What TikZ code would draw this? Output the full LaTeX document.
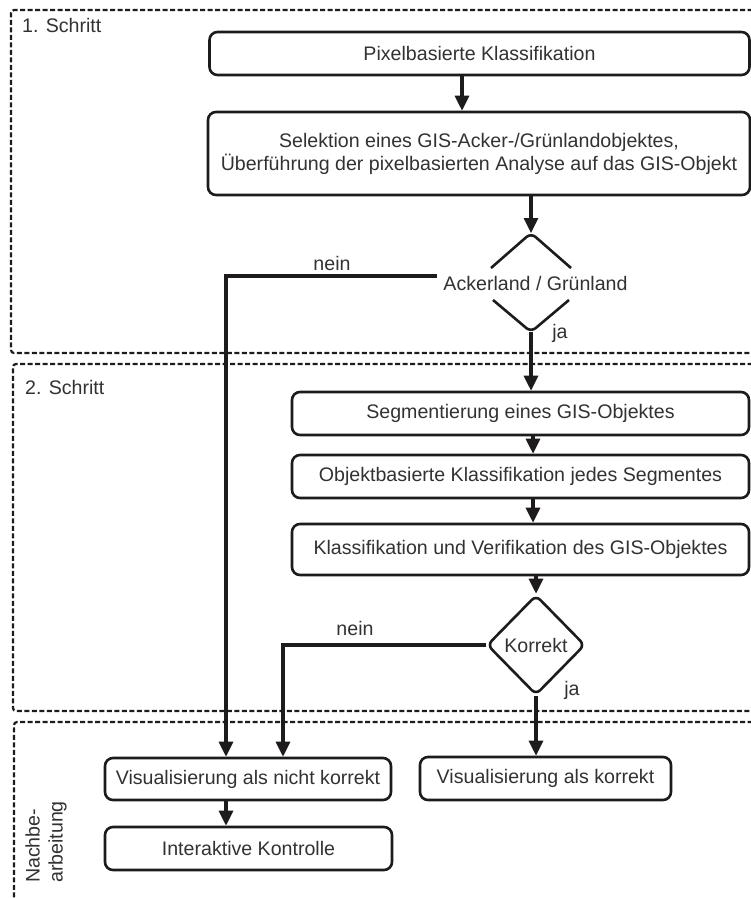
\documentclass[tikz,border=0pt]{standalone}
\usepackage{fontspec}
\setmainfont{Liberation Sans}
\usetikzlibrary{arrows.meta,shapes.geometric}
\definecolor{ln}{RGB}{30,27,28}
\definecolor{tx}{RGB}{50,50,50}
\begin{document}
\begin{tikzpicture}[x=1pt,y=-1pt,
  font=\fontsize{19.6}{23}\selectfont,
  every node/.style={text=tx},
  box/.style={draw=ln, line width=2.6pt, rounded corners=8pt, inner sep=0pt, align=center},
  conn/.style={draw=ln, line width=3.1pt, -{Triangle[length=15pt,width=14pt]}},
  vline/.style={draw=ln, line width=2.6pt, rounded corners=6pt},
  frame/.style={draw=ln, line width=2.2pt, dash pattern=on 5pt off 2.5pt, rounded corners=3pt},
  lbl/.style={inner sep=0pt}
]
\path[use as bounding box] (0,0) rectangle (751,899);
\clip (0,0) rectangle (751,899);
\fill[white] (0,0) rectangle (751,899);

% frames
\draw[frame] (760,10) -- (11,10) -- (11,353) -- (760,353);
\draw[frame] (760,364) -- (13,364) -- (13,711) -- (760,711);
\draw[frame] (760,722) -- (14,722) -- (14,910);

% labels of steps
\node[lbl, anchor=west] (st1) at (22,25) {1. Schritt};
\node[lbl, anchor=west] (st2) at (25,387) {2. Schritt};
\node[lbl, rotate=90, align=left] (nb) at (46,842) {Nachbe-\\arbeitung};

% boxes
\node[box, minimum width=540pt, minimum height=43pt] (b1) at (479.5,53.5) {Pixelbasierte Klassifikation};
\node[box, minimum width=542pt, minimum height=83pt] (b2) at (479,153.5) {Selektion eines GIS-Acker-/Grünlandobjektes,\\Überführung der pixelbasierten Analyse auf das GIS-Objekt};
\node[lbl] (d1) at (535.5,283) {Ackerland / Grünland};
\coordinate (d1top) at (531,233);
\coordinate (d1bot) at (531,332);
\draw[vline] (491,268) -- (d1top) -- (571,268);
\draw[vline] (493,300) -- (d1bot) -- (569,300);

\node[box, minimum width=457pt, minimum height=43pt] (s1) at (520.5,413.5) {Segmentierung eines GIS-Objektes};
\node[box, minimum width=457pt, minimum height=43pt] (s2) at (520.5,476.5) {Objektbasierte Klassifikation jedes Segmentes};
\node[box, minimum width=457pt, minimum height=51pt] (s3) at (520.5,549.5) {Klassifikation und Verifikation des GIS-Objektes};
\node[draw=ln, line width=2.6pt, diamond, rounded corners=6pt, minimum width=98pt, minimum height=100pt, inner sep=0pt] (d2) at (536,645) {Korrekt};

\node[box, minimum width=286pt, minimum height=42pt] (nk) at (248,779) {Visualisierung als nicht korrekt};
\node[box, minimum width=287pt, minimum height=43pt] (ik) at (248.5,848.5) {Interaktive Kontrolle};
\node[box, minimum width=251pt, minimum height=43pt] (ok) at (545.5,778.5) {Visualisierung als korrekt};

% connectors
\coordinate (a1) at (462,0);
\coordinate (a2) at (533,0);
\coordinate (a3) at (226,0);
\coordinate (a4) at (283,0);
\draw[conn] (b1.south -| a1) -- (b2.north -| a1);
\draw[conn] (b2.south -| d1top) -- (d1top);
\draw[conn] (d1bot) -- (s1.north -| d1bot);
\draw[conn] (s1.south -| a2) -- (s2.north -| a2);
\draw[conn] (s2.south -| a2) -- (s3.north -| a2);
\draw[conn] (s3.south -| d2.north) -- (d2.north);
\draw[conn] (d2.south) -- (ok.north -| d2.south);
\coordinate (n1) at ([xshift=-6pt,yshift=7pt]d1.west);
\draw[conn] (n1) -| (nk.north -| a3);
\draw[conn] (d2.west) -| (nk.north -| a4);
\draw[conn] (nk.south -| a3) -- (ik.north -| a3);

% branch labels
\node[lbl] (nein1) at (332,263) {nein};
\node[lbl] (ja1) at (560,333) {ja};
\node[lbl] (nein2) at (355,628) {nein};
\node[lbl] (ja2) at (572,690) {ja};
\end{tikzpicture}
\end{document}
